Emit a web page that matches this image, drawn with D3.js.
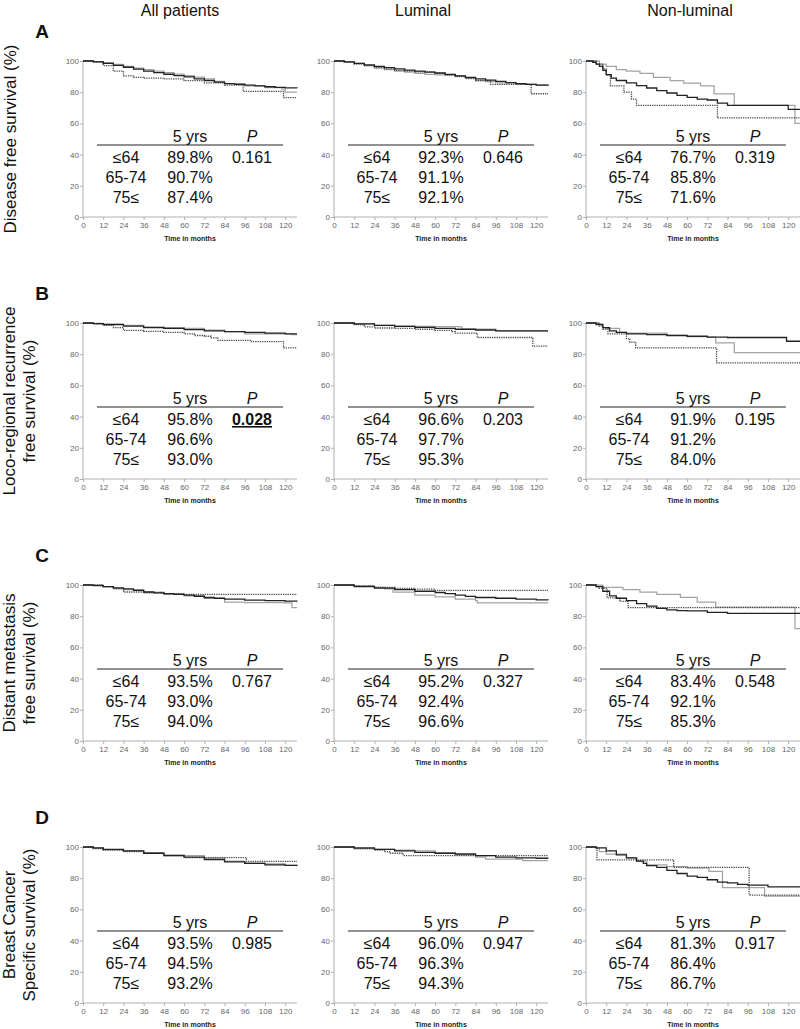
<!DOCTYPE html>
<html><head><meta charset="utf-8">
<script src="https://cdn.jsdelivr.net/npm/d3@7"></script>
<style>
body{margin:0;background:#fff;}
svg{font-family:Arial,"Liberation Sans",sans-serif;}
</style></head>
<body><svg id="c" width="800" height="1029"></svg>
<script>
// ---------- data ----------
const columnTitles = ["All patients", "Luminal", "Non-luminal"];
const rowLetters = ["A", "B", "C", "D"];
const yAxisTitles = [
  ["Disease free survival (%)"],
  ["Loco-regional recurrence", "free survival (%)"],
  ["Distant metastasis", "free survival (%)"],
  ["Breast Cancer", "Specific survival (%)"]
];
const groups = ["≤64", "65-74", "75≤"];
const xTicks = [0, 12, 24, 36, 48, 60, 72, 84, 96, 108, 120];
const yTicks = [0, 20, 40, 60, 80, 100];

// 5-year survival (%) per row: [column][group]
const fiveYrA = [[89.8, 90.7, 87.4], [92.3, 91.1, 92.1], [76.7, 85.8, 71.6]];
const fiveYrB = [[95.8, 96.6, 93.0], [96.6, 97.7, 95.3], [91.9, 91.2, 84.0]];
const fiveYrC = [[93.5, 93.0, 94.0], [95.2, 92.4, 96.6], [83.4, 92.1, 85.3]];
const fiveYrD = [[93.5, 94.5, 93.2], [96.0, 96.3, 94.3], [81.3, 86.4, 86.7]];
const pA = ["0.161", "0.646", "0.319"];
const pB = ["0.028", "0.203", "0.195"];
const pC = ["0.767", "0.327", "0.548"];
const pD = ["0.985", "0.947", "0.917"];
const significant = ["0.028"];

// Kaplan-Meier curves: [≤64, 65-74, 75≤], each [month, survival %]
const curvesA_all = [
  [[0,100],[6,99.5],[12,98.5],[18,97.2],[24,96],[30,94.8],[36,93.5],[42,92.5],[48,91.5],[54,90.6],[60,89.8],[66,88.6],[72,87.5],[78,86.4],[84,85.5],[90,85],[96,84.5],[102,84],[108,83.5],[114,83.1],[120,82.8],[127,82.5]],
  [[0,100],[6,99.6],[12,99],[18,97.8],[24,96.5],[30,95.5],[36,94.5],[42,93.5],[48,92.5],[54,91.6],[60,90.7],[66,89.6],[72,88.5],[78,87],[84,85.5],[96,84],[108,83],[118,82],[120,80],[127,80]],
  [[0,100],[6,99.5],[12,97],[18,93.5],[24,90.5],[30,89.5],[36,89],[48,88.5],[60,87.4],[72,86],[84,84.5],[95,80.5],[119,76.5],[127,76.5]]
];
const curvesA_lum = [
  [[0,100],[6,99.5],[12,98.5],[18,97.5],[24,96.5],[30,95.7],[36,95],[42,94.2],[48,93.5],[54,92.9],[60,92.3],[66,91.4],[72,90.5],[78,89.5],[84,88.5],[90,87.7],[96,87],[102,86.2],[108,85.5],[114,85],[120,84.5],[127,84]],
  [[0,100],[6,99.5],[12,98.5],[18,97],[24,95.5],[30,94.5],[36,93.5],[42,92.8],[48,92],[54,91.5],[60,91.1],[72,90.5],[78,89],[84,87.5],[90,86.8],[96,86],[108,85],[120,84.5],[127,84.5]],
  [[0,100],[6,99.3],[12,98],[18,97],[24,96],[30,95],[36,94],[42,93.5],[48,93],[60,92.1],[66,91],[72,90],[78,88.7],[84,87.5],[93,85],[117,79],[127,79]]
];
const curvesA_non = [
  [[0,100],[4,99.2],[6,98],[8,96.5],[10,94],[12,91.3],[15,89],[18,87.5],[24,86],[30,84.2],[36,82.7],[42,81],[48,79.5],[54,78],[60,76.7],[66,75.6],[72,75],[78,73],[84,71.5],[119,71.5],[120,69],[127,69]],
  [[0,100],[8,98],[12,96.5],[18,94.5],[24,93.5],[32,92],[40,89.5],[50,87.5],[58,85.8],[68,84],[76,79],[88,71.5],[124,60],[127,60]],
  [[0,100],[6,98],[10,95],[12,91],[14.5,84],[22.5,80],[27,75.5],[30,71.6],[77.5,71.6],[78,63.5],[127,63.5]]
];
const curvesB_all = [
  [[0,100],[6,99.6],[12,99],[24,98],[36,97],[48,96.5],[60,95.8],[72,95],[84,94.5],[96,94],[108,93.5],[120,93],[127,93]],
  [[0,100],[6,99.8],[12,99.5],[24,98.5],[36,97.5],[48,97],[60,96.6],[72,95.5],[84,94.5],[96,93],[120,93],[124,92.5],[127,92.5]],
  [[0,100],[6,99.5],[12,98.5],[18,97],[24,95.3],[36,94.6],[48,94],[60,93],[66,92],[72,91.5],[76,90.5],[80,88.8],[100,88],[119,84],[127,84]]
];
const curvesB_lum = [
  [[0,100],[12,99.5],[24,98.5],[36,97.8],[48,97.2],[60,96.6],[72,96],[84,95.5],[96,95],[127,95]],
  [[0,100],[12,99.5],[24,98.5],[36,98],[48,97.8],[60,97.7],[74,97.5],[76,96],[96,95],[127,95]],
  [[0,100],[12,99],[18,97.5],[24,96.8],[36,96.5],[48,96],[60,95.3],[70,94.5],[72,93.5],[85,90.7],[118,85.2],[127,85.2]]
];
const curvesB_non = [
  [[0,100],[6,99],[10,97],[14,95],[18,94],[24,93],[36,92.5],[48,92],[60,91.5],[72,91],[84,90.7],[119,88.3],[127,88.3]],
  [[0,100],[8,99.5],[10,97],[12,96.5],[20,94],[24,93.5],[48,92],[60,91.2],[72,91],[77,87.3],[88,81],[127,81]],
  [[0,100],[8,98],[10,96],[13,93],[24,90],[26,87.7],[29.5,84],[77.5,74.4],[127,74.4]]
];
const curvesC_all = [
  [[0,100],[6,99.6],[12,99],[18,98.2],[24,97.5],[30,96.5],[36,95.5],[42,95],[48,94.5],[54,94],[60,93.5],[66,92.8],[72,92],[78,91.5],[84,91],[96,90.3],[108,90],[120,89.6],[127,89.5]],
  [[0,100],[12,99],[18,98],[24,97],[36,95.5],[48,94],[60,93],[72,91.5],[84,89],[96,88.7],[120,88.5],[124,85.5],[127,85.5]],
  [[0,100],[12,99],[18,97.5],[24,95.5],[36,95],[48,94.5],[60,94],[127,94]]
];
const curvesC_lum = [
  [[0,100],[12,99],[24,98],[36,97],[48,96],[60,95.2],[66,94.5],[72,93.5],[78,92.7],[84,92],[96,91.5],[108,91],[120,90.5],[127,90.3]],
  [[0,100],[12,99.5],[24,98.5],[30,97.5],[35,95.5],[48,93.5],[60,92.4],[72,91],[84,90],[85,88.5],[127,88.5]],
  [[0,100],[12,99.5],[24,98.5],[36,97.8],[48,97.3],[60,96.6],[127,96.6]]
];
const curvesC_non = [
  [[0,100],[6,99],[10,96],[14,93],[18,91.5],[24,90],[30,88],[36,86.5],[42,85],[48,84],[54,83.6],[60,83.4],[72,82.5],[84,81.8],[127,81.8]],
  [[0,100],[10,98.5],[22,97],[32,95.5],[42,94],[56,92.1],[66,89],[77,85.8],[124,72],[127,72]],
  [[0,100],[6,99],[7.5,97.8],[12.5,91.7],[20,89.5],[25,85.5],[127,85.5]]
];
const curvesD_all = [
  [[0,100],[6,99.4],[12,98.5],[24,97.5],[36,96],[48,94.5],[60,93.5],[72,92],[84,90.5],[96,89.5],[108,88.6],[120,88.2],[127,88]],
  [[0,100],[6,99.2],[12,98.3],[24,97.5],[36,96.2],[48,95],[60,94.5],[72,93],[84,91],[96,89.7],[108,89.2],[120,88.2],[127,88]],
  [[0,100],[6,99],[12,98],[24,97],[36,96],[48,94.5],[60,93.2],[96.5,93.2],[97,90.8],[127,90.8]]
];
const curvesD_lum = [
  [[0,100],[12,99.5],[24,98.5],[36,97.5],[48,96.5],[60,96],[72,95.5],[84,94.5],[96,93.5],[108,93],[120,92.8],[127,92.6]],
  [[0,100],[12,99],[24,98.5],[36,98],[48,97.5],[60,96.3],[72,95],[84,93.5],[90,92.3],[112,91.2],[127,91.2]],
  [[0,100],[12,99],[24,98],[30,97],[33,96],[41,94.5],[127,94.4]]
];
const curvesD_non = [
  [[0,100],[6,99.5],[12,97.5],[18,95],[24,93],[30,91],[34,89.5],[36,88],[42,87],[48,85],[54,83],[60,81.3],[66,80.5],[72,79],[78,77.5],[84,77],[90,76],[96,75.5],[108,74.5],[127,74.5]],
  [[0,100],[6,99],[8,97],[12,95.5],[24,93],[30,91],[36,88.5],[48,87.5],[60,86.4],[73,84.3],[81,74],[106,68.5],[127,68.5]],
  [[0,100],[6.5,91.8],[52,86.9],[96.8,69.2],[127,69.2]]
];

const rowsData = [
  {curves: [curvesA_all, curvesA_lum, curvesA_non], five: fiveYrA, p: pA},
  {curves: [curvesB_all, curvesB_lum, curvesB_non], five: fiveYrB, p: pB},
  {curves: [curvesC_all, curvesC_lum, curvesC_non], five: fiveYrC, p: pC},
  {curves: [curvesD_all, curvesD_lum, curvesD_non], five: fiveYrD, p: pD}
];

// ---------- layout ----------
const colX0 = [83, 334, 586];
const rowTop = [61, 323, 585, 847];
const plotW = 214, plotH = 156;
const seriesStyle = [
  {stroke: "#222", width: 1.3, dash: null},
  {stroke: "#a3a3a3", width: 1.25, dash: null},
  {stroke: "#4a4a4a", width: 1.3, dash: "1.3,1"}
];

const svg = d3.select("#c");
const x = d3.scaleLinear().domain([0, 127]).range([0, plotW]);
const y = d3.scaleLinear().domain([0, 100]).range([plotH, 0]);
const line = d3.line().x(d => x(d[0])).y(d => y(d[1])).curve(d3.curveStepAfter);

// column titles
const titleX = [180, 423, 690];
columnTitles.forEach((t, i) => {
  svg.append("text").attr("x", titleX[i]).attr("y", 16).attr("text-anchor", "middle")
    .attr("font-size", 16).attr("fill", "#111").text(t);
});

rowsData.forEach((row, r) => {
  const top = rowTop[r];
  // letter
  svg.append("text").attr("x", 42).attr("y", top - 23).attr("text-anchor", "middle")
    .attr("font-size", 19).attr("font-weight", "bold").attr("fill", "#111").text(rowLetters[r]);
  // y title
  const lines = yAxisTitles[r];
  const cy = top + plotH / 2;
  lines.forEach((t, k) => {
    const lx = lines.length === 1 ? 11 : (k === 0 ? 10 : 30);
    svg.append("text").attr("transform", `translate(${lx + 5},${cy}) rotate(-90)`)
      .attr("text-anchor", "middle").attr("font-size", 17).attr("fill", "#111").text(t);
  });

  row.curves.forEach((curves, c) => {
    const g = svg.append("g").attr("transform", `translate(${colX0[c]},${top})`);
    // axes
    const ya = g.append("g").call(d3.axisLeft(y).tickValues(yTicks).tickSize(3).tickPadding(1));
    const xa = g.append("g").attr("transform", `translate(0,${plotH})`)
      .call(d3.axisBottom(x).tickValues(xTicks).tickSize(3).tickPadding(2));
    [ya, xa].forEach(a => {
      a.select(".domain").attr("stroke", "#b0b0b0").attr("stroke-width", 1);
      a.selectAll(".tick line").attr("stroke", "#b0b0b0");
      a.selectAll(".tick text").attr("fill", "#666").attr("font-size", 8)
        .attr("font-family", "Arial, 'Liberation Sans', sans-serif");
    });
    ya.select(".domain").attr("d", `M0,${plotH}V0`);
    xa.select(".domain").attr("d", `M0,0H${plotW}`);
    // x title
    g.append("text").attr("x", plotW / 2).attr("y", plotH + 24).attr("text-anchor", "middle")
      .attr("font-size", 7).attr("font-weight", "bold").attr("fill", "#222").text("Time in months");
    // curves (draw gray first, then dotted, then black)
    [1, 2, 0].forEach(s => {
      const st = seriesStyle[s];
      g.append("path").datum(curves[s]).attr("d", line).attr("fill", "none")
        .attr("stroke", st.stroke).attr("stroke-width", st.width)
        .attr("stroke-dasharray", st.dash);
    });
    // table
    const ly = 84;
    g.append("line").attr("x1", 14).attr("x2", 200).attr("y1", ly).attr("y2", ly)
      .attr("stroke", "#222").attr("stroke-width", 1.1);
    g.append("text").attr("x", 107).attr("y", ly - 3).attr("text-anchor", "middle")
      .attr("font-size", 16).attr("fill", "#111").text("5 yrs");
    g.append("text").attr("x", 169).attr("y", ly - 3).attr("text-anchor", "middle")
      .attr("font-size", 16).attr("font-style", "italic").attr("fill", "#111").text("P");
    groups.forEach((gr, k) => {
      const by = ly + 18 + k * 20;
      g.append("text").attr("x", 43).attr("y", by).attr("text-anchor", "middle")
        .attr("font-size", 16).attr("fill", "#111").text(gr);
      g.append("text").attr("x", 107).attr("y", by).attr("text-anchor", "middle")
        .attr("font-size", 16).attr("fill", "#111").text(row.five[c][k].toFixed(1) + "%");
    });
    const pv = row.p[c];
    const sig = significant.includes(pv);
    const pt = g.append("text").attr("x", 169).attr("y", ly + 18).attr("text-anchor", "middle")
      .attr("font-size", 16).attr("fill", "#111").text(pv);
    if (sig) {
      pt.attr("font-weight", "bold").attr("text-decoration", "underline");
    }
  });
});
</script></body></html>
